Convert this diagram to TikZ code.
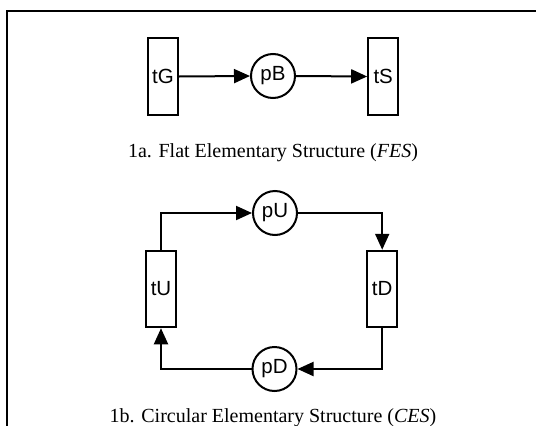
\documentclass[tikz,border=0pt]{standalone}
\usepackage{fontspec}
\setmainfont{Liberation Serif}
\newfontfamily\lblfont{Liberation Sans}
\usetikzlibrary{arrows.meta}
\begin{document}
\begin{tikzpicture}[x=1pt,y=-1pt,
  trans/.style={draw, line width=2pt, rectangle, minimum width=30pt, minimum height=76.5pt, inner sep=0pt, font=\lblfont\fontsize{20.5}{24}\selectfont},
  place/.style={draw, line width=2pt, circle, minimum size=44pt, inner sep=0pt, font=\lblfont\fontsize{20.5}{24}\selectfont},
  arc/.style={draw, line width=2pt, -{Triangle[length=16pt,width=14pt]}},
  caption/.style={anchor=base, inner sep=0pt, font=\fontsize{20}{24}\selectfont},
  frame/.style={draw, line width=2pt}
]
\useasboundingbox (0,0) rectangle (536,426);
\coordinate (fb) at (7,430);
\coordinate (fc) at (7,11.3);
\coordinate (fr) at (540,11.3);
\draw[frame] (fb) -- (fc) -- (fr);

% 1a
\node[trans] (tG) at (163,76.5) {tG};
\node[place] (pB) at (273,76) {pB};
\node[trans] (tS) at (383.2,76.5) {tS};
\draw[arc] (tG.east) -- (pB.west);
\draw[arc] (pB.east) -- (tS.west);
\node[caption] (capA) at (273,157) {1a. Flat Elementary Structure (\textit{FES})};

% 1b
\node[place] (pU) at (275,213) {pU};
\node[trans] (tU) at (161,289) {tU};
\node[trans] (tD) at (382.2,289) {tD};
\node[place] (pD) at (274.5,369) {pD};
\draw[arc] (tU.north) |- (pU.west);
\draw[arc] (pU.east) -| (tD.north);
\draw[arc] (tD.south) |- (pD.east);
\draw[arc] (pD.west) -| (tU.south);
\node[caption] (capB) at (273,422) {1b. Circular Elementary Structure (\textit{CES})};
\end{tikzpicture}
\end{document}
